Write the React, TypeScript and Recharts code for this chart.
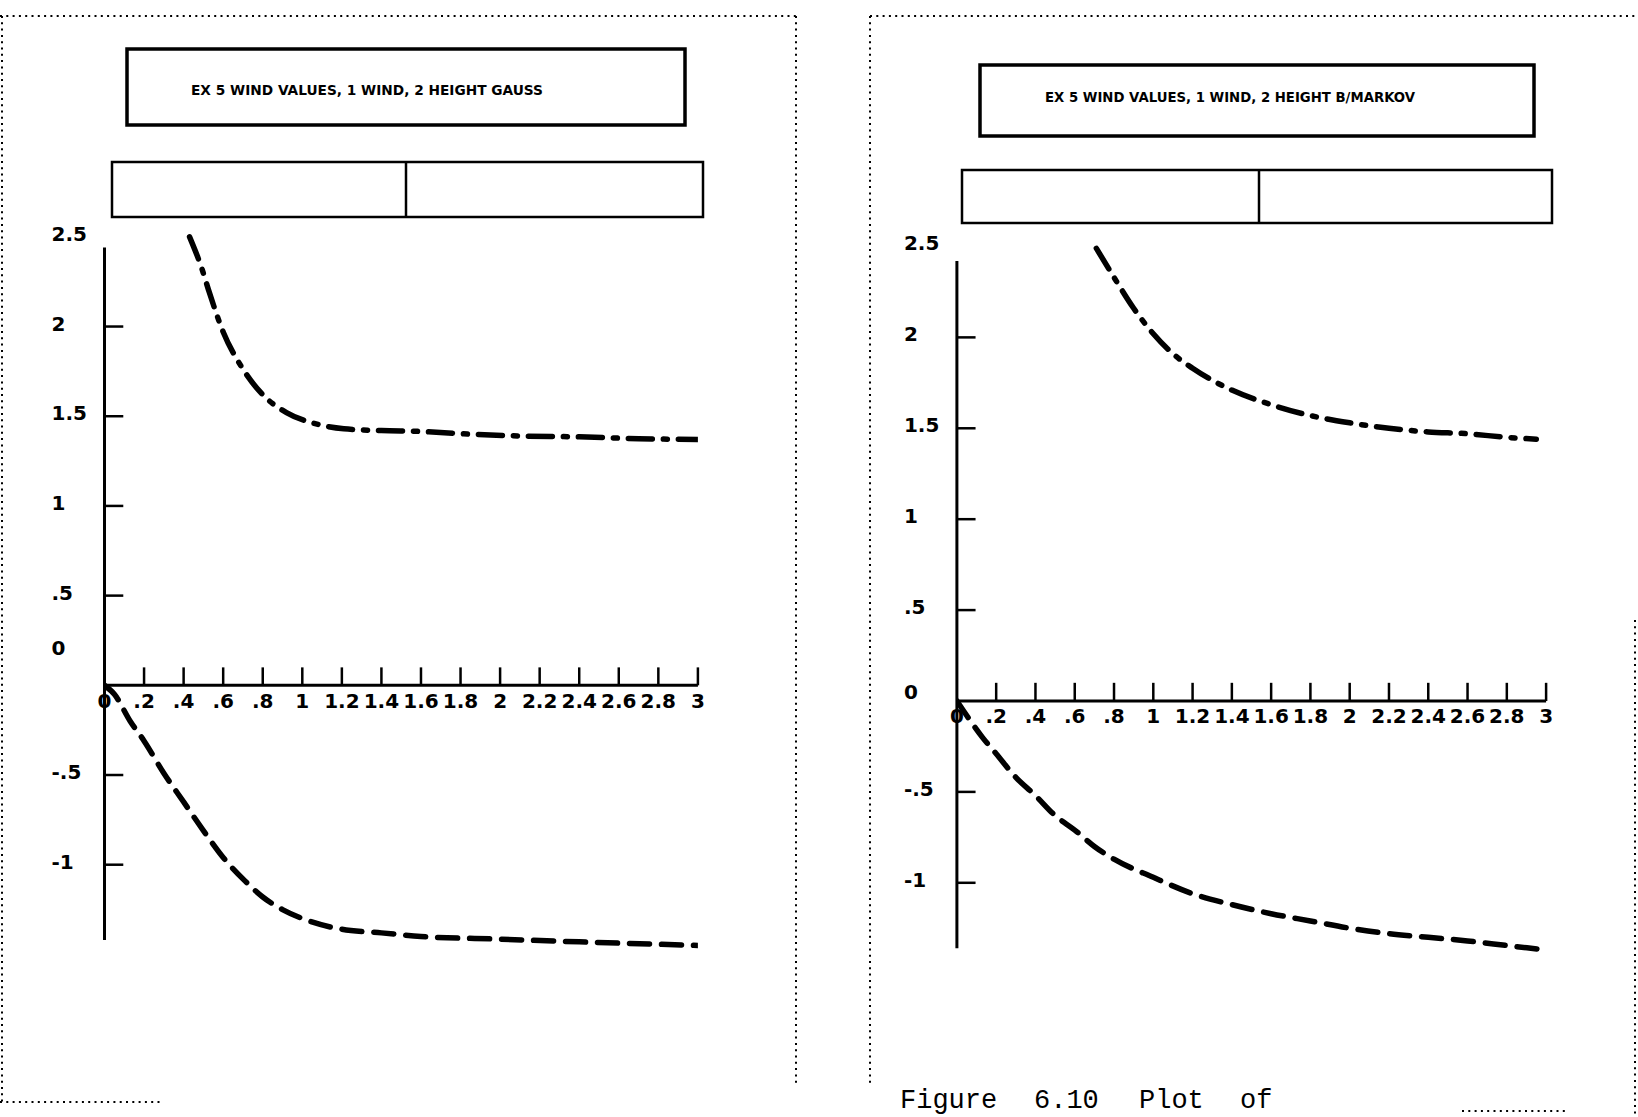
import React from 'react';
import { LineChart, Line, XAxis, YAxis, ReferenceLine, ReferenceDot } from 'recharts';

// ---- tick values and labels ----
const xTickValues = [0, 0.2, 0.4, 0.6, 0.8, 1, 1.2, 1.4, 1.6, 1.8, 2, 2.2, 2.4, 2.6, 2.8, 3];
const xTickLabels = ['0', '.2', '.4', '.6', '.8', '1', '1.2', '1.4', '1.6', '1.8', '2', '2.2', '2.4', '2.6', '2.8', '3'];
const yTickValues = [-1, -0.5, 0, 0.5, 1, 1.5, 2, 2.5];
const yTickLabels = ['-1', '-.5', '0', '.5', '1', '1.5', '2', '2.5'];

// ---- left panel (GAUSS) ----
const gaussUpperX = [0.43, 0.49, 0.53, 0.6, 0.69, 0.8, 0.92, 1.06, 1.21, 1.4, 1.6, 1.85, 2.1, 2.4, 2.7, 3.0];
const gaussUpperY = [2.5, 2.33, 2.19, 1.97, 1.78, 1.62, 1.52, 1.46, 1.43, 1.42, 1.415, 1.4, 1.39, 1.385, 1.375, 1.37];
const gaussLowerX = [0, 0.05, 0.13, 0.2, 0.3, 0.4, 0.5, 0.6, 0.71, 0.8, 0.9, 1.0, 1.2, 1.4, 1.6, 2.0, 2.4, 3.0];
const gaussLowerY = [0, -0.05, -0.2, -0.31, -0.49, -0.65, -0.81, -0.96, -1.09, -1.18, -1.25, -1.3, -1.36, -1.38, -1.4, -1.415, -1.43, -1.45];

// ---- right panel (B/MARKOV) ----
const markovUpperX = [0.71, 0.8, 0.9, 1.0, 1.1, 1.2, 1.4, 1.6, 1.8, 2.0, 2.2, 2.4, 2.6, 2.8, 2.95];
const markovUpperY = [2.49, 2.33, 2.16, 2.02, 1.91, 1.83, 1.71, 1.63, 1.57, 1.53, 1.5, 1.48, 1.47, 1.45, 1.44];
const markovLowerX = [0, 0.05, 0.13, 0.2, 0.3, 0.4, 0.5, 0.6, 0.7, 0.8, 1.0, 1.2, 1.4, 1.6, 1.8, 2.0, 2.2, 2.4, 2.6, 2.8, 3.0];
const markovLowerY = [0, -0.08, -0.2, -0.29, -0.42, -0.52, -0.63, -0.71, -0.8, -0.87, -0.97, -1.06, -1.12, -1.17, -1.21, -1.25, -1.28, -1.3, -1.32, -1.345, -1.37];

const titles = [
  'EX 5 WIND VALUES, 1 WIND, 2 HEIGHT GAUSS',
  'EX 5 WIND VALUES, 1 WIND, 2 HEIGHT B/MARKOV',
];
const captionWords = ['Figure', '6.10', 'Plot', 'of'];

const toPoints = (xs: number[], ys: number[]) => xs.map((x, i) => ({ x, y: ys[i] }));

const TICK_FONT = "'DejaVu Sans', sans-serif";
const Y_DOMAIN: [number, number] = [-1.5, 2.6];

type PanelProps = {
  left: number;
  top: number;
  width: number;
  height: number;
  margin: { top: number; right: number; bottom: number; left: number };
  upper: { x: number; y: number }[];
  lower: { x: number; y: number }[];
  axisTop: number;
  axisBottom: number;
  zeroLabelDy: number;
};

function Panel(p: PanelProps) {
  const YTick = (t: any) => {
    const v = t.payload.value;
    const i = yTickValues.indexOf(v);
    return (
      <text
        x={t.x}
        y={t.y + (v === 0 ? p.zeroLabelDy : -3)}
        textAnchor="start"
        dominantBaseline="central"
        fontFamily={TICK_FONT}
        fontWeight={700}
        fontSize={20}
        fill="#000"
      >
        {yTickLabels[i]}
      </text>
    );
  };
  const yTickLen = 0.095;
  const xTickLen = 0.1;
  return (
    <div style={{ position: 'absolute', left: p.left, top: p.top }}>
      <LineChart width={p.width} height={p.height} margin={p.margin}>
        <XAxis type="number" dataKey="x" domain={[0, 3]} hide allowDataOverflow />
        <YAxis
          type="number"
          domain={Y_DOMAIN}
          allowDataOverflow
          ticks={yTickValues}
          interval={0}
          width={60}
          axisLine={false}
          tickLine={false}
          tickSize={0}
          tickMargin={53}
          tick={YTick}
        />
        <ReferenceLine
          segment={[{ x: 0, y: p.axisBottom }, { x: 0, y: p.axisTop }]}
          stroke="#000"
          strokeWidth={3}
        />
        <ReferenceLine segment={[{ x: 0, y: 0 }, { x: 3, y: 0 }]} stroke="#000" strokeWidth={3} />
        {yTickValues
          .filter((v) => v !== 0 && v <= p.axisTop)
          .map((v) => (
            <ReferenceLine
              key={'yt' + v}
              segment={[{ x: 0, y: v }, { x: yTickLen, y: v }]}
              stroke="#000"
              strokeWidth={2.5}
            />
          ))}
        {xTickValues
          .filter((v) => v > 0)
          .map((v) => (
            <ReferenceLine
              key={'xt' + v}
              segment={[{ x: v, y: 0 }, { x: v, y: xTickLen }]}
              stroke="#000"
              strokeWidth={2.5}
            />
          ))}
        {xTickValues.map((v, i) => (
          <ReferenceDot
            key={'xl' + v}
            x={v}
            y={0}
            r={0}
            fill="none"
            stroke="none"
            label={{
              value: xTickLabels[i],
              position: 'bottom',
              offset: 8,
              fill: '#000',
              fontSize: 20,
              fontWeight: 700,
              fontFamily: TICK_FONT,
            }}
          />
        ))}
        <Line
          data={p.lower}
          dataKey="y"
          type="monotone"
          dot={false}
          stroke="#000"
          strokeWidth={5.5}
          strokeDasharray="20 12"
          strokeLinecap="round"
          isAnimationActive={false}
        />
        <Line
          data={p.upper}
          dataKey="y"
          type="monotone"
          dot={false}
          stroke="#000"
          strokeWidth={5.5}
          strokeDasharray="24 11 4 11"
          strokeLinecap="round"
          isAnimationActive={false}
        />
      </LineChart>
    </div>
  );
}

const dotted = { stroke: '#000', strokeWidth: 2, strokeDasharray: '2 4.3', fill: 'none' };

export default function App() {
  return (
    <div
      style={{
        position: 'absolute',
        left: 0,
        top: 0,
        width: 1638,
        height: 1117,
        overflow: 'hidden',
        background: '#fff',
        fontFamily: TICK_FONT,
      }}
    >
      <svg width={1638} height={1117} style={{ position: 'absolute', left: 0, top: 0 }}>
        {/* dotted page frames */}
        <line x1={0} y1={16} x2={796} y2={16} {...dotted} />
        <line x1={2} y1={16} x2={2} y2={1102} {...dotted} />
        <line x1={796} y1={16} x2={796} y2={1086} {...dotted} />
        <line x1={0} y1={1102} x2={162} y2={1102} {...dotted} />
        <line x1={870} y1={16} x2={1638} y2={16} {...dotted} />
        <line x1={870} y1={16} x2={870} y2={1086} {...dotted} />
        <line x1={1635} y1={620} x2={1635} y2={1117} {...dotted} />
        <line x1={1462} y1={1111} x2={1567} y2={1111} {...dotted} />

        {/* left title box */}
        <rect x={127} y={49} width={558} height={76} fill="none" stroke="#000" strokeWidth={3.5} />
        <text
          x={191}
          y={90}
          dominantBaseline="central"
          fontFamily={TICK_FONT}
          fontWeight={700}
          fontSize={13.5}
          textLength={352}
          lengthAdjust="spacingAndGlyphs"
          fill="#000"
        >
          {titles[0]}
        </text>
        <rect x={112} y={162} width={591} height={55} fill="none" stroke="#000" strokeWidth={2.5} />
        <line x1={406} y1={162} x2={406} y2={217} stroke="#000" strokeWidth={2.5} />

        {/* right title box */}
        <rect x={980} y={65} width={554} height={71} fill="none" stroke="#000" strokeWidth={3.5} />
        <text
          x={1045}
          y={97}
          dominantBaseline="central"
          fontFamily={TICK_FONT}
          fontWeight={700}
          fontSize={13.5}
          textLength={370}
          lengthAdjust="spacingAndGlyphs"
          fill="#000"
        >
          {titles[1]}
        </text>
        <rect x={962} y={170} width={590} height={53} fill="none" stroke="#000" strokeWidth={2.5} />
        <line x1={1259} y1={170} x2={1259} y2={223} stroke="#000" strokeWidth={2.5} />

        {/* caption at the page bottom */}
        {captionWords.map((w, i) => (
          <text
            key={w}
            x={[900, 1034, 1139, 1240][i]}
            y={1108}
            fontFamily="'Liberation Mono', monospace"
            fontSize={27}
            fill="#000"
          >
            {w}
          </text>
        ))}
      </svg>

      <Panel
        left={0}
        top={0}
        width={800}
        height={1000}
        margin={{ top: 218.9, right: 102.1, bottom: 45.6, left: 44.5 }}
        upper={toPoints(gaussUpperX, gaussUpperY)}
        lower={toPoints(gaussLowerX, gaussLowerY)}
        axisTop={2.44}
        axisBottom={-1.42}
        zeroLabelDy={-37}
      />
      <Panel
        left={850}
        top={0}
        width={788}
        height={1000}
        margin={{ top: 228.3, right: 91.9, bottom: 26.3, left: 46.9 }}
        upper={toPoints(markovUpperX, markovUpperY)}
        lower={toPoints(markovLowerX, markovLowerY)}
        axisTop={2.42}
        axisBottom={-1.36}
        zeroLabelDy={-9}
      />
    </div>
  );
}
